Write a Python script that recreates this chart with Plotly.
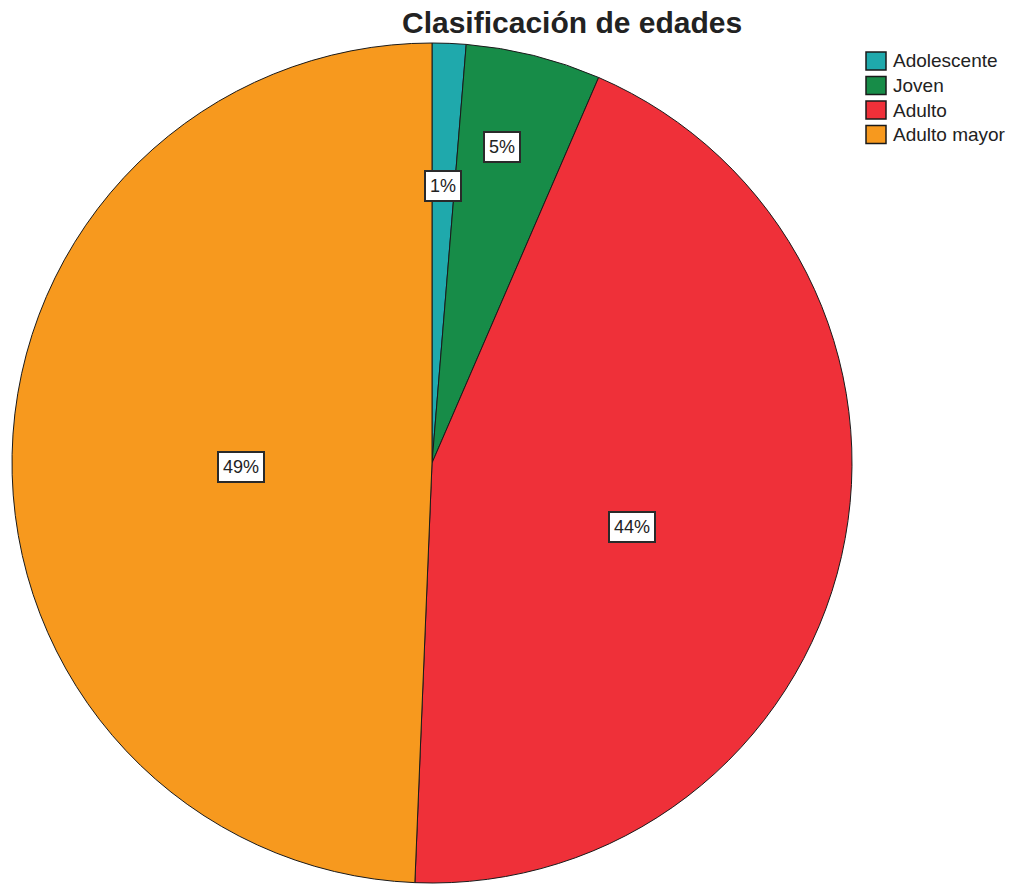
import math
import plotly.graph_objects as go

# Age-group counts
categories = ["Adolescente", "Joven", "Adulto", "Adulto mayor"]
counts = [1, 4, 34, 38]
colors = ["#1fa9ac", "#178c48", "#ef3039", "#f7991e"]

W, H = 1016, 886
CX, CY, R = 432, 463, 420  # pie centre and radius in pixels

# radial position of each percentage box (fraction of radius) and angular nudge
label_r = [0.66, 0.77, 0.50, 0.455]
label_nudge = [0.0, -1.5, 5.0, -2.5]

FONT = "Arial, Liberation Sans"

fig = go.Figure(go.Pie(
    labels=categories,
    values=counts,
    marker=dict(colors=colors, line=dict(color="#1a1a1a", width=1)),
    sort=False,
    direction="clockwise",
    rotation=0,
    textinfo="none",
    hoverinfo="label+percent",
    showlegend=False,
    domain=dict(x=[(CX - R) / W, (CX + R) / W],
                y=[(H - CY - R) / H, (H - CY + R) / H]),
))

total = sum(counts)
cum = 0
annotations = []
shapes = []
for i, v in enumerate(counts):
    mid = (cum + v / 2) / total * 360 + label_nudge[i]
    cum += v
    r = R * label_r[i]
    px = CX + r * math.sin(math.radians(mid))
    py = CY - r * math.cos(math.radians(mid))
    annotations.append(dict(
        x=px / W, y=1 - py / H, xref="paper", yref="paper",
        xanchor="center", yanchor="middle",
        text=f"{round(100 * v / total)}%", showarrow=False,
        font=dict(family=FONT, size=18, color="#222222"),
        bgcolor="white", bordercolor="#2a2a2a", borderwidth=2, borderpad=4,
    ))

# legend: coloured squares with category names, top right
LEG_X, LEG_Y0, LEG_DY, SQ = 866, 61, 24.5, 20
for i, (name, col) in enumerate(zip(categories, colors)):
    yc = LEG_Y0 + i * LEG_DY
    shapes.append(dict(
        type="rect", xref="paper", yref="paper",
        x0=LEG_X / W, x1=(LEG_X + SQ) / W,
        y0=1 - (yc + SQ / 2 - 1) / H, y1=1 - (yc - SQ / 2 + 1) / H,
        fillcolor=col, line=dict(color="#1a1a1a", width=1.5),
    ))
    annotations.append(dict(
        x=(LEG_X + SQ + 5) / W, y=1 - yc / H, xref="paper", yref="paper",
        xanchor="left", yanchor="middle", text=name, showarrow=False,
        font=dict(family=FONT, size=19, color="#222222"),
    ))

annotations.append(dict(
    x=572 / W, y=1 - 23 / H, xref="paper", yref="paper",
    xanchor="center", yanchor="middle",
    text="<b>Clasificación de edades</b>", showarrow=False,
    font=dict(family=FONT, size=30, color="#222222"),
))

fig.update_layout(
    width=W, height=H,
    margin=dict(l=0, r=0, t=0, b=0),
    paper_bgcolor="white",
    annotations=annotations,
    shapes=shapes,
    showlegend=False,
)

fig.write_html("out.html")
